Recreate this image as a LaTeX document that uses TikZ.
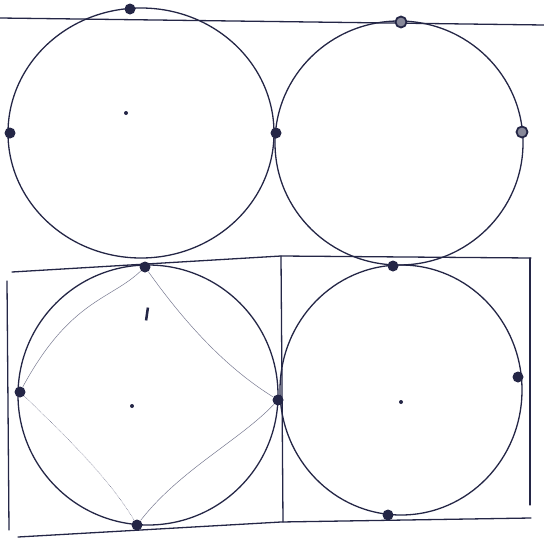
\documentclass[tikz,border=0pt]{standalone}
\usepackage{tikz}
\usetikzlibrary{calc, positioning}
\usepackage{xcolor}
\definecolor{ink}{RGB}{36, 38, 70}
\definecolor{faint}{RGB}{120, 122, 145}

\begin{document}
\begin{tikzpicture}[x=1pt, y=-1pt, line width=1.3pt, line join=round, line cap=round,
    hdot/.style={circle, fill=ink, inner sep=0pt, minimum size=11pt},
    hring/.style={circle, draw=ink, fill=ink!55, line width=1.8pt, inner sep=0pt, minimum size=11pt},
    tiny/.style={circle, fill=ink, inner sep=0pt, minimum size=4pt},
    wire/.style={draw=faint, line width=0.5pt}]
  \useasboundingbox (0,0) rectangle (544,541);

  % Top guide line and the grid of the lower row
  \draw[ink] (0,18) -- (544,25);
  \draw[ink] (12,272) -- (281,256) -- (531,258);
  \draw[ink] (18,537) -- (281,522) -- (531,518);
  \draw[ink] (7,281) -- (9,530);
  \draw[ink] (281,256) -- (283,522);
  \draw[ink] (530,258) -- (530,505);

  % The four circles
  \draw[ink] (141,133) ellipse [x radius=133, y radius=125];
  \draw[ink] (399,143) ellipse [x radius=124, y radius=122];
  \draw[ink] (148,395) ellipse [x radius=130, y radius=130];
  \draw[ink] (401,390) ellipse [x radius=121, y radius=125];

  % Contact points
  \foreach \nm/\px/\py in {tlTop/130/9, tlLeft/10/133, midUp/276/133,
      blTop/145/267, blLeft/20/392, midLow/278/400, blBot/137/525,
      brTop/393/266, brRight/518/377, brBot/388/515}
    \node[hdot] (\nm) at (\px,\py) {};
  \node[hring] (trTop) at (401,22) {};
  \node[hring] (trRight) at (522,132) {};

  % Centre marks
  \node[tiny] (tlMid) at (126,113) {};
  \node[tiny] (blMid) at (132,406) {};
  \node[tiny] (brMid) at (401,402) {};
  \node[rectangle, fill=ink, inner sep=0pt, minimum width=2.5pt, minimum height=13pt,
    rotate=-8] (blTick) at (147,314) {};

  % Thin diamond inside the lower left circle
  \draw[wire] (blTop) .. controls (110,300) and (70,300) .. (blLeft);
  \draw[wire] (blTop) .. controls (190,330) and (230,370) .. (midLow);
  \draw[wire, densely dotted] (blLeft) .. controls (70,440) and (110,480) .. (blBot);
  \draw[wire] (midLow) .. controls (240,440) and (180,470) .. (blBot);
\end{tikzpicture}
\end{document}
